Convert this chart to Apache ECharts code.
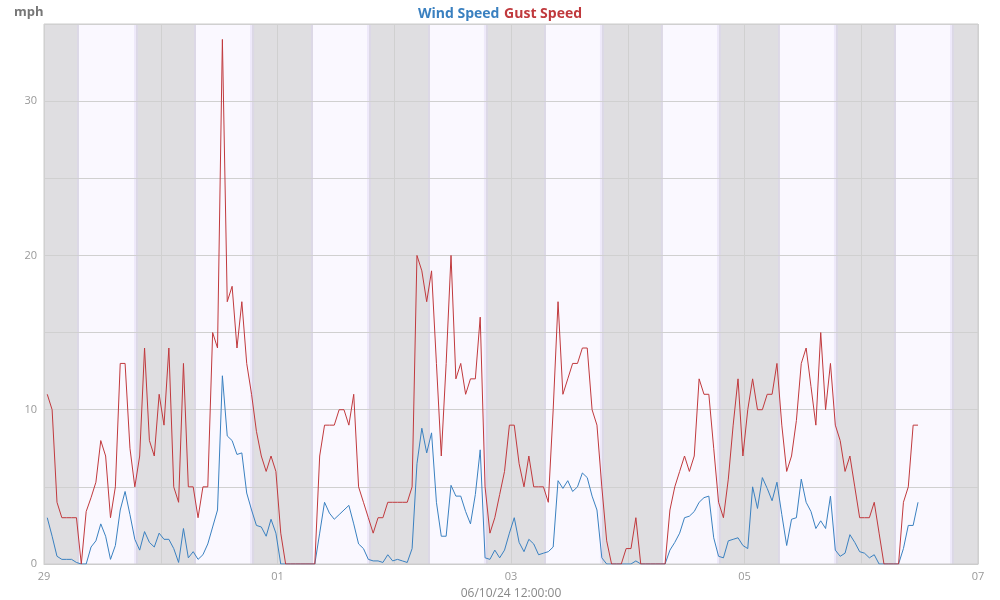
<!DOCTYPE html>
<html><head><meta charset="utf-8">
<script src="https://cdn.jsdelivr.net/npm/echarts@6/dist/echarts.min.js"></script>
<style>html,body{margin:0;padding:0;background:#fff}#c{width:1000px;height:600px}</style>
</head><body><div id="c"></div>
<script>
// Hourly readings (mph), first reading ~00:40 on the 29th
const windSpeed = [
  3.0,1.8,0.5,0.3,0.3,0.3,0.1,0,0,1.1,
  1.5,2.6,1.8,0.3,1.2,3.5,4.7,3.2,1.6,0.9,
  2.1,1.4,1.1,2.0,1.6,1.6,1.0,0.1,2.3,0.4,
  0.8,0.3,0.6,1.3,2.4,3.5,12.2,8.3,8.0,7.1,
  7.2,4.6,3.5,2.5,2.4,1.8,2.9,2.0,0,0,
  0,0,0,0,0,0,2.0,4.0,3.3,2.9,
  3.2,3.5,3.8,2.6,1.3,1.0,0.3,0.2,0.2,0.1,
  0.6,0.2,0.3,0.2,0.1,1.0,6.5,8.8,7.2,8.5,
  4.0,1.8,1.8,5.1,4.4,4.4,3.4,2.6,4.5,7.4,
  0.4,0.3,0.9,0.4,0.9,2.0,3.0,1.4,0.8,1.6,
  1.3,0.6,0.7,0.8,1.1,5.4,4.9,5.4,4.7,5.0,
  5.9,5.6,4.4,3.5,0.4,0,0,0,0,0,
  0,0.2,0,0,0,0,0,0,0.9,1.4,
  2.0,3.0,3.1,3.4,4.0,4.3,4.4,1.7,0.5,0.4,
  1.5,1.6,1.7,1.2,1.0,5.0,3.6,5.6,4.9,4.1,
  5.3,3.2,1.2,2.9,3.0,5.5,4.0,3.4,2.3,2.8,
  2.3,4.4,0.9,0.5,0.7,1.9,1.4,0.8,0.7,0.4,
  0.6,0,0,0,0,0,1.0,2.5,2.5,4.0
];
const gustSpeed = [
  11,10,4,3,3,3,3,0,3.4,4.3,
  5.3,8,7,3,5,13,13,7.5,5,7,
  14,8,7,11,9,14,5,4,13,5,
  5,3,5,5,15,14,34,17,18,14,
  17,13,11,8.6,7,6,7,6,2,0,
  0,0,0,0,0,0,7,9,9,9,
  10,10,9,11,5,4,3,2,3,3,
  4,4,4,4,4,5,20,19,17,19,
  13,7,13,20,12,13,11,12,12,16,
  5,2,3,4.5,6,9,9,6.5,5,7,
  5,5,5,4,10,17,11,12,13,13,
  14,14,10,9,5,1.5,0,0,0,1,
  1,3,0,0,0,0,0,0,3.5,5,
  6,7,6,7,12,11,11,7.5,4,3,
  5.5,9,12,7,10,12,10,10,11,11,
  13,9,6,7,9.3,13,14,11.5,9,15,
  10,13,9,8,6,7,5,3,3,3,
  4,2,0,0,0,0,4,5,9,9
];
const firstSampleHour = 0.67;          // hours after 29th 00:00
const dayLabels = ['29','30','01','02','03','04','05','06','07'];
const yTickLabels = [0, 10, 20, 30];
// night (dark) periods, hours after 29th 00:00
const nightStart = [0, 18.91, 42.76, 66.81, 90.86, 114.70, 138.75, 162.80, 186.65];
const nightEnd   = [7.19, 31.25, 55.30, 79.35, 103.19, 127.24, 151.29, 175.14, 192];
const xMax = 192;

const times = windSpeed.map((_, i) => firstSampleHour + i);
const windData = windSpeed.map((v, i) => [times[i], v]);
const gustData = gustSpeed.map((v, i) => [times[i], v]);

const bandData = [];
let prev = 0;
nightStart.forEach((s, i) => {
  if (s > prev) bandData.push([prev, s, 0]);
  bandData.push([s, nightEnd[i], 1]);
  prev = nightEnd[i];
});
if (prev < xMax) bandData.push([prev, xMax, 0]);

const chart = echarts.init(document.getElementById('c'));
chart.setOption({
  animation: false,
  backgroundColor: '#fff',
  textStyle: { fontFamily: 'Open Sans' },
  title: [
    {
      text: '{w|Wind Speed} {g|Gust Speed}',
      left: 'center', top: 0,
      textStyle: {
        rich: {
          w: { color: '#3a80c0', fontWeight: 'bold', fontSize: 14, fontFamily: 'Open Sans' },
          g: { color: '#c0393d', fontWeight: 'bold', fontSize: 14, fontFamily: 'Open Sans' }
        }
      }
    },
    {
      text: 'mph', left: 9, top: 1,
      textStyle: { color: '#777', fontWeight: 'bold', fontSize: 13, fontFamily: 'Open Sans' }
    }
  ],
  grid: {
    left: 44, right: 22, top: 24, bottom: 36,
    outerBoundsMode: 'none', containLabel: false,
    show: true, borderColor: '#ccc', borderWidth: 1, backgroundColor: 'transparent'
  },
  xAxis: {
    type: 'value', min: 0, max: xMax, interval: 24,
    axisLine: { show: true, lineStyle: { color: '#ccc' } },
    axisTick: { show: false },
    axisLabel: {
      color: '#999', fontSize: 11, margin: 7,
      formatter: v => { const d = Math.round(v / 24); return d % 2 === 0 ? dayLabels[d] : ''; }
    },
    splitLine: { show: true, lineStyle: { color: '#d0d0d0', width: 1 } },
    name: '06/10/24 12:00:00', nameLocation: 'middle', nameGap: 24,
    nameTextStyle: { color: '#888', fontSize: 12 }
  },
  yAxis: {
    type: 'value', min: 0, max: 35, interval: 5,
    axisLine: { show: false }, axisTick: { show: false },
    axisLabel: {
      color: '#999', fontSize: 11, margin: 7,
      formatter: v => yTickLabels.includes(v) ? String(v) : ''
    },
    splitLine: { show: true, lineStyle: { color: '#d0d0d0', width: 1 } }
  },
  series: [
    {
      type: 'custom', z: -1, silent: true,
      data: bandData,
      encode: { x: [0, 1] },
      renderItem: (params, api) => {
        const cs = params.coordSys;
        const x0 = api.coord([api.value(0), 0])[0];
        const x1 = api.coord([api.value(1), 0])[0];
        const night = api.value(2) === 1;
        const children = [{
          type: 'rect',
          shape: { x: x0, y: cs.y, width: x1 - x0, height: cs.height },
          style: { fill: night ? '#dfdee1' : '#faf8ff' }
        }];
        if (night) {
          [x0, x1].forEach(ex => {
            if (ex > cs.x + 1 && ex < cs.x + cs.width - 1) {
              children.push({
                type: 'rect',
                shape: { x: ex - 2, y: cs.y, width: 4, height: cs.height },
                style: { fill: 'rgba(215,205,240,0.35)' }
              });
            }
          });
        }
        return { type: 'group', children };
      }
    },
    {
      name: 'Wind Speed', type: 'line', data: windData,
      showSymbol: false, symbol: 'none',
      lineStyle: { color: '#3a80c0', width: 1 }, itemStyle: { color: '#3a80c0' }, z: 3
    },
    {
      name: 'Gust Speed', type: 'line', data: gustData,
      showSymbol: false, symbol: 'none',
      lineStyle: { color: '#c0393d', width: 1 }, itemStyle: { color: '#c0393d' }, z: 4
    }
  ]
});
</script>
</body></html>
